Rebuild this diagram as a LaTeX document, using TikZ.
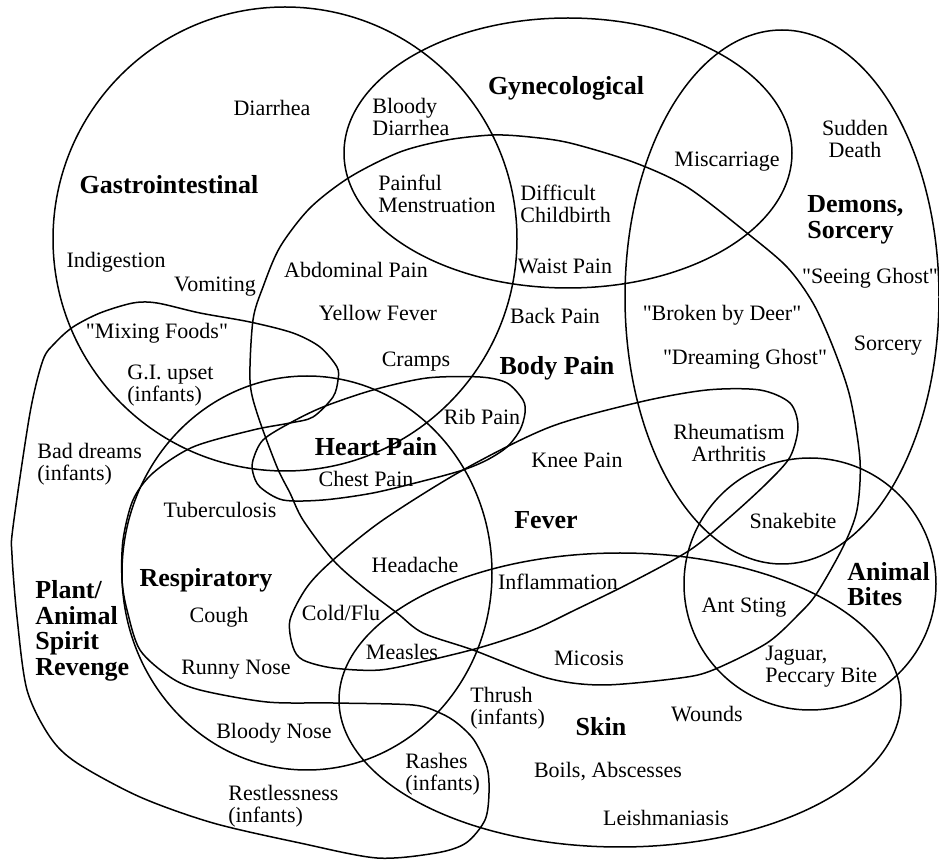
\documentclass[tikz,border=0pt]{standalone}
\usepackage{fontspec}
\setmainfont{Liberation Serif}
\usepackage{tikz}

\begin{document}
\begin{tikzpicture}[x=0.5pt,y=-0.5pt,
  item/.style={font=\fontsize{11}{11}\selectfont,inner sep=0pt,align=center},
  itemleft/.style={item,align=left,anchor=west},
  group/.style={font=\fontsize{13}{12.8}\selectfont\bfseries,inner sep=0pt,align=left},
  set/.style={line width=0.75pt}]
  \useasboundingbox (0,0) rectangle (939,861);

  % the sets
  \draw[set] (285,239) circle (232);
  \draw[set] (568,153) ellipse [x radius=224, y radius=135];
  \draw[set] (782,297) ellipse [x radius=157, y radius=267];
  \draw[set] (810,584) circle (126);
  \draw[set] (620,700) ellipse [x radius=281, y radius=147];
  \draw[set] (307,573) ellipse [x radius=185, y radius=197];
  \draw[set] plot[smooth cycle] coordinates {(250,380) (253,320) (263,287)
    (280,247) (310,208) (350,177) (400,152) (447,140) (493,135) (530,137)
    (570,143) (633,162) (687,187) (747,233) (787,267) (813,303) (833,347)
    (850,397) (860,460) (857,510) (843,547) (817,593) (800,613) (767,643)
    (713,670) (680,678) (603,685) (547,678) (473,650) (423,633) (397,613)
    (363,587) (333,560) (303,520) (290,493) (277,467) (257,413)};
  \draw[set] plot[smooth cycle] coordinates {(290,620) (307,587) (333,560)
    (383,520) (463,470) (550,427) (640,402) (707,390) (760,390) (790,403)
    (798,427) (790,457) (767,483) (730,517) (690,550) (630,583) (575,610)
    (533,630) (482,647) (430,660) (380,670) (333,668) (303,660) (293,647)};
  \draw[set] plot[smooth cycle] coordinates {(253,460) (263,440) (290,423)
    (323,407) (373,390) (427,378) (480,377) (507,383) (523,400) (525,413)
    (520,430) (507,447) (487,460) (463,470) (427,480) (373,493) (323,500)
    (283,500) (260,487) (253,473)};
  \draw[set] plot[smooth cycle] coordinates {(55,343) (73,327) (100,313)
    (133,303) (157,303) (200,313) (250,322) (293,333) (320,347) (337,367)
    (338,380) (333,397) (313,417) (290,423) (253,430) (193,447) (153,473)
    (133,500) (123,540) (122,580) (127,610) (140,650) (170,677) (200,690)
    (267,702) (333,703) (413,705) (440,713) (457,723) (474,740) (487,767)
    (489,793) (485,820) (466,843) (436,853) (377,858) (300,843) (213,823)
    (140,797) (77,763) (50,737) (27,690) (17,617) (12,555) (13,527)
    (30,413) (43,360)};

  % set names
  \node[group] (gastro) at (169,185) {Gastrointestinal};
  \node[group] (gyneco) at (566,88) {Gynecological};
  \node[group,anchor=west] (demons) at (807,220) {Demons,\\Sorcery};
  \node[group] (bodypain) at (557,368) {Body Pain};
  \node[group] (heartpain) at (376,447) {Heart Pain};
  \node[group] (fever) at (546,520) {Fever};
  \node[group] (respir) at (206,580) {Respiratory};
  \node[group,anchor=west] (plant) at (35,631) {Plant/\\Animal\\Spirit\\Revenge};
  \node[group,anchor=west] (bites) at (847,584) {Animal\\Bites};
  \node[group] (skin) at (601,727) {Skin};

  % illnesses
  \node[item] (diarrhea) at (272,108) {Diarrhea};
  \node[itemleft] (blooddiar) at (372,117) {Bloody\\Diarrhea};
  \node[item] (sudden) at (855,139) {Sudden\\Death};
  \node[item] (miscar) at (727,162) {Miscarriage};
  \node[itemleft] (menstr) at (378,194) {Painful\\Menstruation};
  \node[itemleft] (childb) at (520,204) {Difficult\\Childbirth};
  \node[item] (indig) at (116,262) {Indigestion};
  \node[item] (abdom) at (356,270) {Abdominal Pain};
  \node[item] (waist) at (565,266) {Waist Pain};
  \node[item] (seeing) at (870,278) {\textquotedbl Seeing Ghost\textquotedbl};
  \node[item] (vomit) at (215,287) {Vomiting};
  \node[item] (yellow) at (378,313) {Yellow Fever};
  \node[item] (back) at (555,316) {Back Pain};
  \node[item] (deer) at (722,315) {\textquotedbl Broken by Deer\textquotedbl};
  \node[item] (mixing) at (157,333) {\textquotedbl Mixing Foods\textquotedbl};
  \node[item] (sorcery) at (888,346) {Sorcery};
  \node[item] (dreaming) at (745,359) {\textquotedbl Dreaming Ghost\textquotedbl};
  \node[item] (cramps) at (416,362) {Cramps};
  \node[itemleft] (giupset) at (127,386) {G.I. upset\\(infants)};
  \node[item] (rib) at (482,417) {Rib Pain};
  \node[item] (rheuma) at (729,443) {Rheumatism\\Arthritis};
  \node[item] (knee) at (577,460) {Knee Pain};
  \node[itemleft] (baddream) at (37,464) {Bad dreams\\(infants)};
  \node[item] (chest) at (366,479) {Chest Pain};
  \node[item] (tuber) at (220,510) {Tuberculosis};
  \node[item] (snake) at (793,521) {Snakebite};
  \node[item] (headache) at (415,565) {Headache};
  \node[item] (inflam) at (558,582) {Inflammation};
  \node[item] (ant) at (744,608) {Ant Sting};
  \node[item] (coldflu) at (341,613) {Cold/Flu};
  \node[item] (cough) at (219,617) {Cough};
  \node[item] (measles) at (402,652) {Measles};
  \node[item] (micosis) at (589,658) {Micosis};
  \node[itemleft] (jaguar) at (765,667) {Jaguar,\\Peccary Bite};
  \node[item] (runny) at (236,670) {Runny Nose};
  \node[itemleft] (thrush) at (470,708) {Thrush\\(infants)};
  \node[item] (wounds) at (707,714) {Wounds};
  \node[item] (bloodnose) at (274,733) {Bloody Nose};
  \node[item] (boils) at (608,772) {Boils, Abscesses};
  \node[itemleft] (rashes) at (405,774) {Rashes\\(infants)};
  \node[itemleft] (restless) at (228,806) {Restlessness\\(infants)};
  \node[item] (leish) at (666,818) {Leishmaniasis};
\end{tikzpicture}
\end{document}
